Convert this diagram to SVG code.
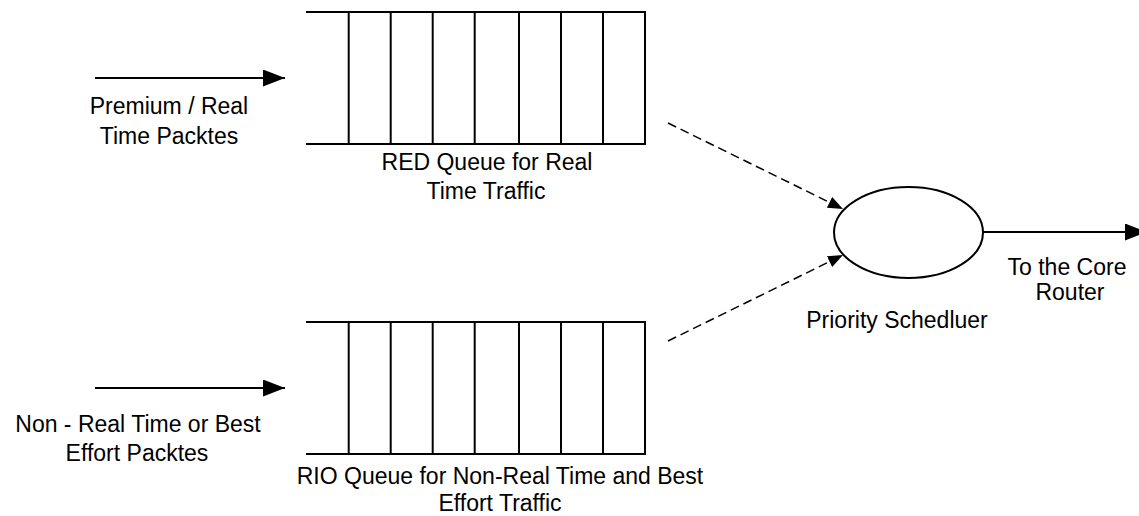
<svg xmlns="http://www.w3.org/2000/svg" width="1139" height="516" viewBox="0 0 1139 516">
<style>
text{font-family:"Liberation Sans",Arial,sans-serif;font-size:23px;fill:#000;text-anchor:middle}
.q{fill:none;stroke:#000;stroke-width:2}
.solid{stroke:#000;stroke-width:2;fill:none}
.dash{stroke:#000;stroke-width:1.5;fill:none;stroke-dasharray:9 5}
</style>
<defs>
<marker id="big" markerUnits="userSpaceOnUse" markerWidth="24" markerHeight="18" refX="22" refY="8.5" orient="auto"><path d="M0,0 L22,8.5 L0,17 Z" fill="#000"/></marker>
<marker id="small" markerUnits="userSpaceOnUse" markerWidth="16" markerHeight="14" refX="15" refY="6" orient="auto"><path d="M0,0 L15,6 L0,12 Z" fill="#000"/></marker>
</defs>
<rect width="1139" height="516" fill="#fff"/>
<g id="red-queue">
<path class="q" d="M306,12 H645 V144 H306 M348.7,12 V144 M390.7,12 V144 M432.7,12 V144 M474.7,12 V144 M519,12 V144 M561,12 V144 M603,12 V144"/>
<text x="487" y="170">RED Queue for Real</text>
<text x="486" y="199">Time Traffic</text>
</g>
<g id="rio-queue">
<path class="q" d="M306,322 H645 V454 H306 M348.7,322 V454 M390.7,322 V454 M432.7,322 V454 M474.7,322 V454 M519,322 V454 M561,322 V454 M603,322 V454"/>
<text x="500" y="484">RIO Queue for Non-Real Time and Best</text>
<text x="500" y="511">Effort Traffic</text>
</g>
<g id="scheduler">
<ellipse cx="908.5" cy="232.5" rx="74.5" ry="45.5" class="q"/>
<text x="897" y="328">Priority Schedluer</text>
</g>
<g id="premium-label">
<text x="169" y="114">Premium / Real</text>
<text x="169" y="144">Time Packtes</text>
</g>
<g id="besteffort-label">
<text x="138" y="432">Non - Real Time or Best</text>
<text x="137" y="461">Effort Packtes</text>
</g>
<g id="core-label">
<text x="1067" y="275">To the Core</text>
<text x="1070" y="300">Router</text>
</g>
<g id="connectors">
<line class="solid" x1="95" y1="78" x2="285" y2="78" marker-end="url(#big)"/>
<line class="solid" x1="95" y1="388" x2="285" y2="388" marker-end="url(#big)"/>
<line class="solid" x1="983" y1="232" x2="1147" y2="232" marker-end="url(#big)"/>
<line class="dash" x1="668" y1="123" x2="843" y2="209" marker-end="url(#small)"/>
<line class="dash" x1="668" y1="341" x2="843" y2="255" marker-end="url(#small)"/>
</g>
</svg>
